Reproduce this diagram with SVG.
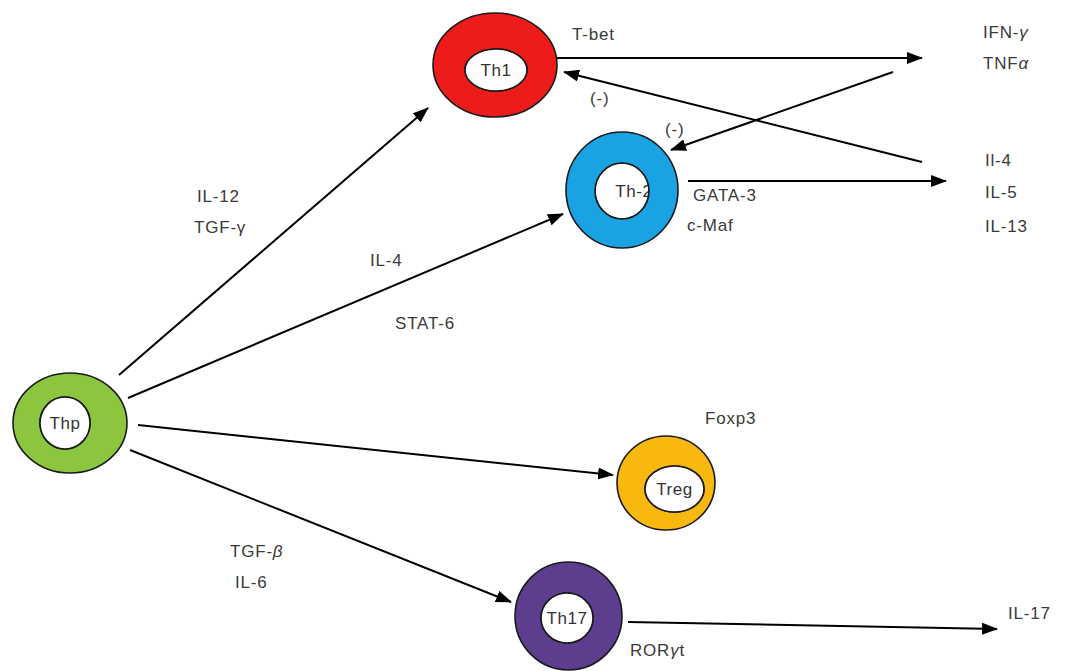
<svg xmlns="http://www.w3.org/2000/svg" width="1067" height="671" viewBox="0 0 1067 671">
  <defs>
    <marker id="arrow" markerWidth="16" markerHeight="12" refX="15" refY="6" orient="auto" markerUnits="userSpaceOnUse">
      <path d="M0,0 L16,6 L0,12 Z" fill="#000"/>
    </marker>
  </defs>
  <style>
    .ring { stroke: #1a1a1a; stroke-width: 1.6; fill-rule: evenodd; }
    .hole { fill: #fff; stroke: #1a1a1a; stroke-width: 1.6; }
    .lbl { font-family: "Liberation Sans", Arial, sans-serif; font-size: 17px; fill: #3a3a3a; letter-spacing: 0.8px; }
    .cell { font-family: "Liberation Sans", Arial, sans-serif; font-size: 17px; fill: #333; text-anchor: middle; letter-spacing: 0.6px; }
    .edge { stroke: #000; stroke-width: 2; fill: none; marker-end: url(#arrow); }
  </style>
  <rect width="1067" height="671" fill="#fff"/>

  <g id="connectors">
    <line class="edge" x1="119" y1="375" x2="428" y2="108"/>
    <line class="edge" x1="128" y1="398" x2="563" y2="214"/>
    <line class="edge" x1="138" y1="425" x2="613" y2="475"/>
    <line class="edge" x1="130" y1="450" x2="511" y2="602"/>
    <line class="edge" x1="557" y1="58" x2="922" y2="58"/>
    <line class="edge" x1="893" y1="72" x2="671" y2="150"/>
    <line class="edge" x1="922" y1="162" x2="564" y2="72"/>
    <line class="edge" x1="688" y1="181" x2="946" y2="181"/>
    <line class="edge" x1="628" y1="622" x2="997" y2="629"/>
  </g>

  <g id="node-th1">
    <path class="ring" fill="#ee1b1b" d="M433,65 a62,52 0 1,0 124,0 a62,52 0 1,0 -124,0 Z M465,70 a31,21 0 1,0 62,0 a31,21 0 1,0 -62,0 Z"/>
    <ellipse class="hole" cx="496" cy="70" rx="31" ry="21"/>
    <text class="cell" x="496" y="76">Th1</text>
  </g>

  <g id="node-th2">
    <ellipse class="hole" cx="622" cy="191" rx="27" ry="28"/>
    <text class="cell" x="634" y="197">Th-2</text>
    <!-- ring drawn over the label so the last glyph tucks under it -->
    <path class="ring" fill="#1aa3e2" d="M566,190 a56,58 0 1,0 112,0 a56,58 0 1,0 -112,0 Z M595,191 a27,28 0 1,0 54,0 a27,28 0 1,0 -54,0 Z"/>
  </g>

  <g id="node-thp">
    <path class="ring" fill="#8cc63f" d="M13,423 a57,50 0 1,0 114,0 a57,50 0 1,0 -114,0 Z M40,423 a25,26 0 1,0 50,0 a25,26 0 1,0 -50,0 Z"/>
    <ellipse class="hole" cx="65" cy="423" rx="25" ry="26"/>
    <text class="cell" x="65" y="429">Thp</text>
  </g>

  <g id="node-treg">
    <path class="ring" fill="#f9b80f" d="M617,483 a49,47 0 1,0 98,0 a49,47 0 1,0 -98,0 Z M645,489 a29.5,23 0 1,0 59,0 a29.5,23 0 1,0 -59,0 Z"/>
    <ellipse class="hole" cx="674.5" cy="489" rx="29.5" ry="23"/>
    <text class="cell" x="674.5" y="495">Treg</text>
  </g>

  <g id="node-th17">
    <path class="ring" fill="#5c3d8e" d="M515,616 a53.5,54 0 1,0 107,0 a53.5,54 0 1,0 -107,0 Z M541,618 a26,25 0 1,0 52,0 a26,25 0 1,0 -52,0 Z"/>
    <ellipse class="hole" cx="567" cy="618" rx="26" ry="25"/>
    <text class="cell" x="567" y="624">Th17</text>
  </g>

  <g id="labels">
    <text class="lbl" x="572" y="40">T-bet</text>
    <text class="lbl" x="983" y="38">IFN-<tspan font-style="italic">γ</tspan></text>
    <text class="lbl" x="983" y="69">TNF<tspan font-style="italic">α</tspan></text>
    <text class="lbl" x="590" y="104">(-)</text>
    <text class="lbl" x="665" y="135">(-)</text>
    <text class="lbl" x="985" y="166">Il-4</text>
    <text class="lbl" x="985" y="198">IL-5</text>
    <text class="lbl" x="985" y="232">IL-13</text>
    <text class="lbl" x="693" y="201">GATA-3</text>
    <text class="lbl" x="687" y="231">c-Maf</text>
    <text class="lbl" x="197" y="202">IL-12</text>
    <text class="lbl" x="194" y="233">TGF-γ</text>
    <text class="lbl" x="370" y="266">IL-4</text>
    <text class="lbl" x="395" y="329">STAT-6</text>
    <text class="lbl" x="705" y="424">Foxp3</text>
    <text class="lbl" x="230" y="557">TGF-<tspan font-style="italic">β</tspan></text>
    <text class="lbl" x="235" y="588">IL-6</text>
    <text class="lbl" x="630" y="656">ROR<tspan font-style="italic">γ</tspan>t</text>
    <text class="lbl" x="1008" y="619">IL-17</text>
  </g>
</svg>
